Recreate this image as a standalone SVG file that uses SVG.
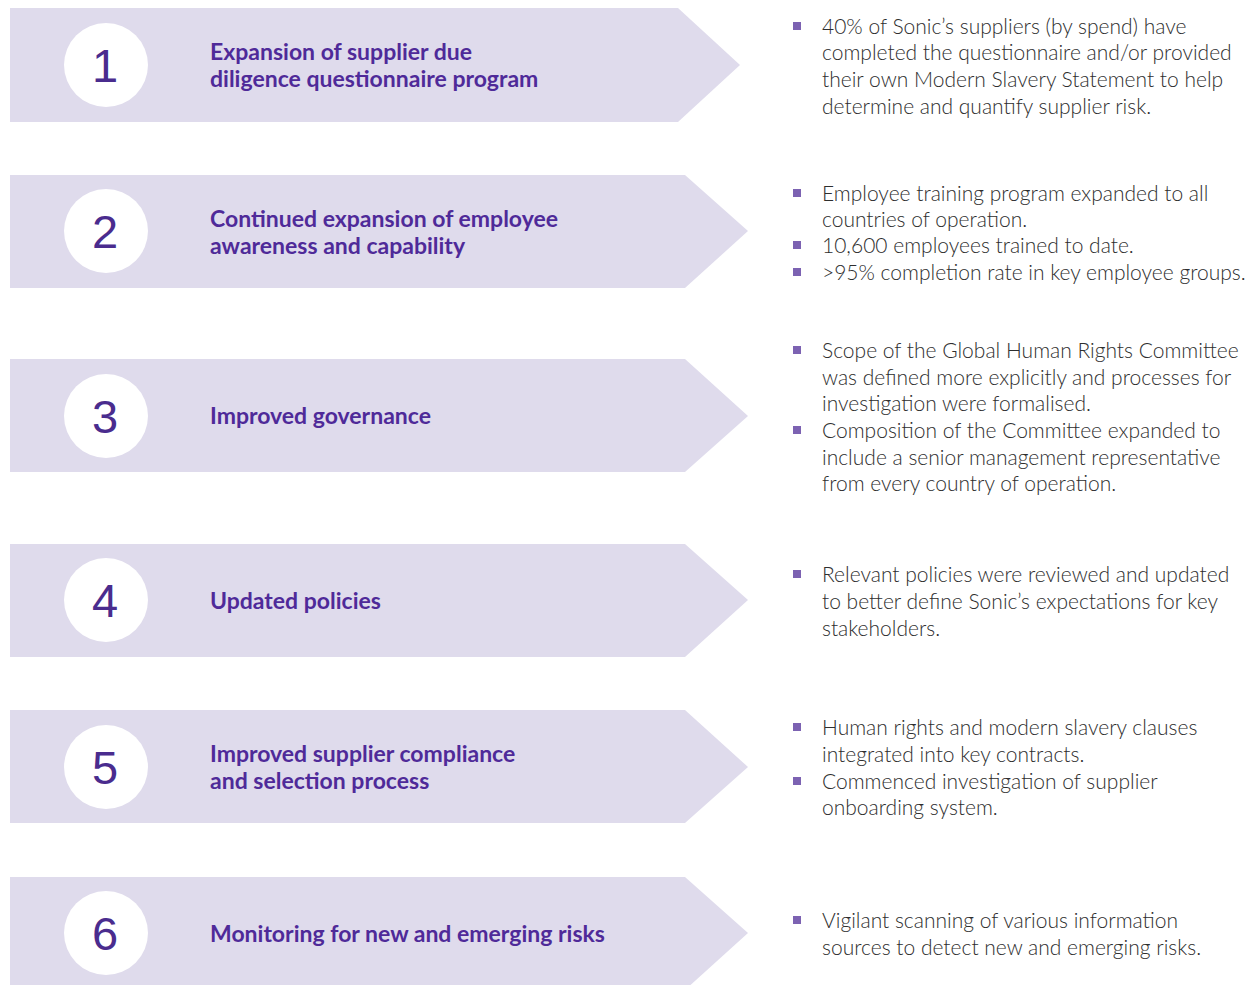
<svg xmlns="http://www.w3.org/2000/svg" width="1250" height="985" viewBox="0 0 1250 985">
<style>
.box{fill:#dfdbec}
.circ{fill:#ffffff}
.num{font-family:"Liberation Sans",Arial,sans-serif;font-size:47px;fill:#4a2c8e;text-anchor:middle}
.ttl{font-family:Lato,"Liberation Sans",sans-serif;font-weight:bold;font-size:23px;fill:#4f2a99}
.desc{font-family:Lato,"Liberation Sans",sans-serif;font-weight:300;font-size:21px;fill:#2e2e2e}
.bul{fill:#7c62b2}
</style>
<rect width="1250" height="985" fill="#ffffff"/>
<g id="node1">
<polygon class="box" points="10,8 678,8 740,65 678,122 10,122"/>
<circle class="circ" cx="106" cy="65" r="42"/>
<text class="num" x="105" y="82">1</text>
<text class="ttl" x="210" y="60">Expansion of supplier due</text>
<text class="ttl" x="210" y="87">diligence questionnaire program</text>
<rect class="bul" x="793" y="22" width="8" height="8"/>
<text class="desc" x="822" y="34">40% of Sonic’s suppliers (by spend) have</text>
<text class="desc" x="822" y="60">completed the questionnaire and/or provided</text>
<text class="desc" x="822" y="87">their own Modern Slavery Statement to help</text>
<text class="desc" x="822" y="114">determine and quantify supplier risk.</text>
</g>
<g id="node2">
<polygon class="box" points="10,175 685,175 748,231 685,288 10,288"/>
<circle class="circ" cx="106" cy="231" r="42"/>
<text class="num" x="105" y="248">2</text>
<text class="ttl" x="210" y="227">Continued expansion of employee</text>
<text class="ttl" x="210" y="254">awareness and capability</text>
<rect class="bul" x="793" y="189" width="8" height="8"/>
<text class="desc" x="822" y="201">Employee training program expanded to all</text>
<text class="desc" x="822" y="227">countries of operation.</text>
<rect class="bul" x="793" y="241" width="8" height="8"/>
<text class="desc" x="822" y="253">10,600 employees trained to date.</text>
<rect class="bul" x="793" y="268" width="8" height="8"/>
<text class="desc" x="822" y="280">&gt;95% completion rate in key employee groups.</text>
</g>
<g id="node3">
<polygon class="box" points="10,359 685,359 748,416 685,472 10,472"/>
<circle class="circ" cx="106" cy="416" r="42"/>
<text class="num" x="105" y="433">3</text>
<text class="ttl" x="210" y="424">Improved governance</text>
<rect class="bul" x="793" y="346" width="8" height="8"/>
<text class="desc" x="822" y="358">Scope of the Global Human Rights Committee</text>
<text class="desc" x="822" y="385">was defined more explicitly and processes for</text>
<text class="desc" x="822" y="411">investigation were formalised.</text>
<rect class="bul" x="793" y="426" width="8" height="8"/>
<text class="desc" x="822" y="438">Composition of the Committee expanded to</text>
<text class="desc" x="822" y="465">include a senior management representative</text>
<text class="desc" x="822" y="491">from every country of operation.</text>
</g>
<g id="node4">
<polygon class="box" points="10,544 685,544 748,600 685,657 10,657"/>
<circle class="circ" cx="106" cy="600" r="42"/>
<text class="num" x="105" y="617">4</text>
<text class="ttl" x="210" y="609">Updated policies</text>
<rect class="bul" x="793" y="570" width="8" height="8"/>
<text class="desc" x="822" y="582">Relevant policies were reviewed and updated</text>
<text class="desc" x="822" y="609">to better define Sonic’s expectations for key</text>
<text class="desc" x="822" y="636">stakeholders.</text>
</g>
<g id="node5">
<polygon class="box" points="10,710 685,710 748,767 685,823 10,823"/>
<circle class="circ" cx="106" cy="767" r="42"/>
<text class="num" x="105" y="784">5</text>
<text class="ttl" x="210" y="762">Improved supplier compliance</text>
<text class="ttl" x="210" y="789">and selection process</text>
<rect class="bul" x="793" y="723" width="8" height="8"/>
<text class="desc" x="822" y="735">Human rights and modern slavery clauses</text>
<text class="desc" x="822" y="762">integrated into key contracts.</text>
<rect class="bul" x="793" y="777" width="8" height="8"/>
<text class="desc" x="822" y="789">Commenced investigation of supplier</text>
<text class="desc" x="822" y="815">onboarding system.</text>
</g>
<g id="node6">
<polygon class="box" points="10,877 685,877 748,933 685,990 10,990"/>
<circle class="circ" cx="106" cy="933" r="42"/>
<text class="num" x="105" y="950">6</text>
<text class="ttl" x="210" y="942">Monitoring for new and emerging risks</text>
<rect class="bul" x="793" y="916" width="8" height="8"/>
<text class="desc" x="822" y="928">Vigilant scanning of various information</text>
<text class="desc" x="822" y="955">sources to detect new and emerging risks.</text>
</g>
<g id="connectors"></g>
</svg>
